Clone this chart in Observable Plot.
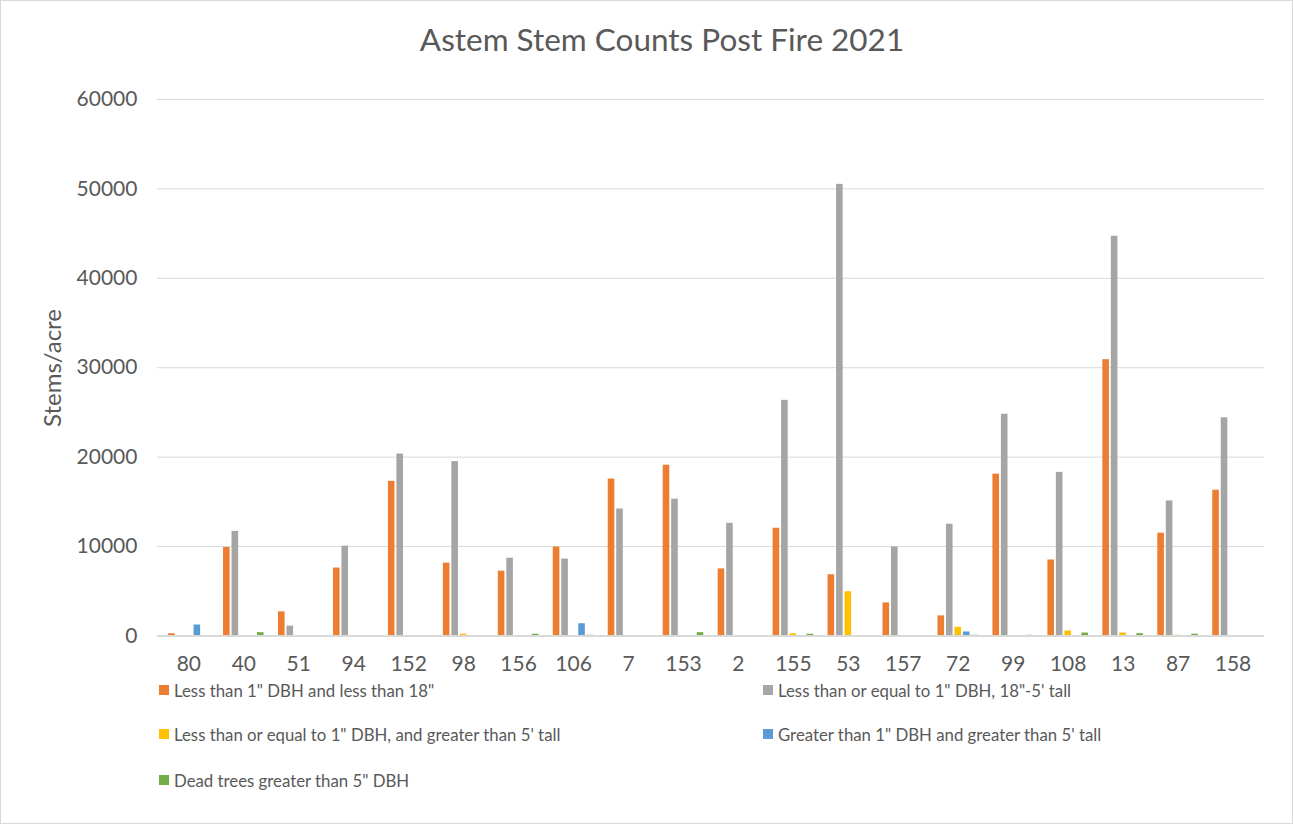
<!DOCTYPE html>
<html>
<head>
<meta charset="utf-8">
<script src="https://cdn.jsdelivr.net/npm/d3@7"></script>
<script src="https://cdn.jsdelivr.net/npm/@observablehq/plot@0.6"></script>
<style>
  html, body { margin: 0; padding: 0; background: #fff; }
  #chart {
    position: relative; width: 1293px; height: 824px; box-sizing: border-box;
    border: 1px solid #d9d9d9; font-family: Lato, "Open Sans", sans-serif; color: #595959;
    overflow: hidden;
  }
  #title {
    position: absolute; left: 31px; right: 0; top: 19px; text-align: center;
    font-size: 31.5px; color: #595959;
  }
  #ylabel {
    position: absolute; left: 50px; top: 367px; font-size: 24px;
    transform: translate(-50%, -50%) rotate(-90deg); white-space: nowrap;
  }
  #plot { position: absolute; left: -1px; top: -1px; }
  .leg { position: absolute; font-size: 16.8px; white-space: nowrap; display: flex; align-items: center; }
  .leg i { display: inline-block; width: 10px; height: 10px; margin-right: 5px; }
</style>
</head>
<body>
<div id="chart">
  <div id="title">Astem Stem Counts Post Fire 2021</div>
  <div id="ylabel">Stems/acre</div>
  <div id="plot"></div>
</div>
<script>
// Plot identifiers, in the order they appear along the axis
const categories = ["80", "40", "51", "94", "152", "98", "156", "106", "7", "153", "2", "155", "53", "157", "72", "99", "108", "13", "87", "158"];

const seriesNames = [
  "Less than 1\" DBH and less than 18\"",
  "Less than or equal to 1\" DBH, 18\"-5' tall",
  "Less than or equal to 1\" DBH, and greater than 5' tall",
  "Greater than 1\" DBH and greater than 5' tall",
  "Dead trees greater than 5\" DBH"
];
const seriesColors = ["#ED7D31", "#A5A5A5", "#FFC000", "#5B9BD5", "#70AD47"];

// Stems per acre for each series, one value per plot
const lessThan1Under18 = [250, 9900, 2700, 7600, 17300, 8150, 7250, 9950, 17550, 19100, 7500, 12050, 6850, 3700, 2250, 18100, 8500, 30900, 11500, 16300];
const upTo1From18To5ft = [0, 11700, 1100, 10050, 20350, 19500, 8700, 8600, 14200, 15300, 12600, 26350, 50500, 9950, 12500, 24800, 18300, 44700, 15100, 24400];
const upTo1Over5ft = [0, 0, 0, 0, 50, 200, 0, 50, 0, 0, 60, 250, 4950, 60, 970, 0, 560, 330, 80, 0];
const over1Over5ft = [1230, 0, 0, 0, 0, 0, 0, 1370, 0, 0, 0, 0, 0, 0, 450, 0, 0, 0, 0, 60];
const deadOver5 = [0, 370, 0, 0, 50, 0, 200, 80, 0, 370, 0, 200, 60, 60, 80, 80, 330, 260, 200, 60];

const yTicks = [0, 10000, 20000, 30000, 40000, 50000, 60000];

const seriesValues = [lessThan1Under18, upTo1From18To5ft, upTo1Over5ft, over1Over5ft, deadOver5];

// Long-format rows for the bar marks
const rows = seriesValues.flatMap((vals, s) =>
  categories.map((c, i) => ({cat: c, series: s, value: vals[i]}))
);

const W = 1293, H = 690;
const mL = 157, mR = 28, mT = 99, mB = 54;
const band = (W - mL - mR) / categories.length;
const barW = 7, barStep = 8.5;
const inset = (band - barW) / 2;

// One bar mark per series, offset within each category band
const barMarks = seriesValues.map((_, s) =>
  Plot.barY(rows.filter(d => d.series === s), {
    x: "cat", y: "value", fill: seriesColors[s],
    insetLeft: inset, insetRight: inset, dx: (s - 2) * barStep
  })
);

const chart = Plot.plot({
  width: W, height: H,
  marginLeft: mL, marginRight: mR, marginTop: mT, marginBottom: mB,
  style: {fontFamily: "Lato, 'Open Sans', sans-serif", fontSize: "21px", color: "#595959", background: "transparent"},
  x: {domain: categories, padding: 0, tickSize: 0, tickPadding: 20, label: null},
  y: {domain: [0, 60000], ticks: yTicks, tickFormat: d => String(d), tickSize: 0, tickPadding: 20, label: null},
  marks: [
    Plot.ruleY(yTicks.filter(t => t > 0), {stroke: "#d9d9d9", strokeWidth: 1}),
    ...barMarks,
    Plot.ruleY([0], {stroke: "#d9d9d9", strokeWidth: 2})
  ]
});
document.getElementById("plot").appendChild(chart);

// Legend in two columns below the plot
const legendPos = [[158, 689], [762, 689], [158, 733], [762, 733], [158, 779]];
const chartDiv = document.getElementById("chart");
seriesNames.forEach((name, s) => {
  const el = document.createElement("div");
  el.className = "leg";
  el.style.left = legendPos[s][0] + "px";
  el.style.top = (legendPos[s][1] - 11) + "px";
  el.style.height = "22px";
  const sw = document.createElement("i");
  sw.style.background = seriesColors[s];
  el.appendChild(sw);
  el.appendChild(document.createTextNode(name));
  chartDiv.appendChild(el);
});
</script>
</body>
</html>
